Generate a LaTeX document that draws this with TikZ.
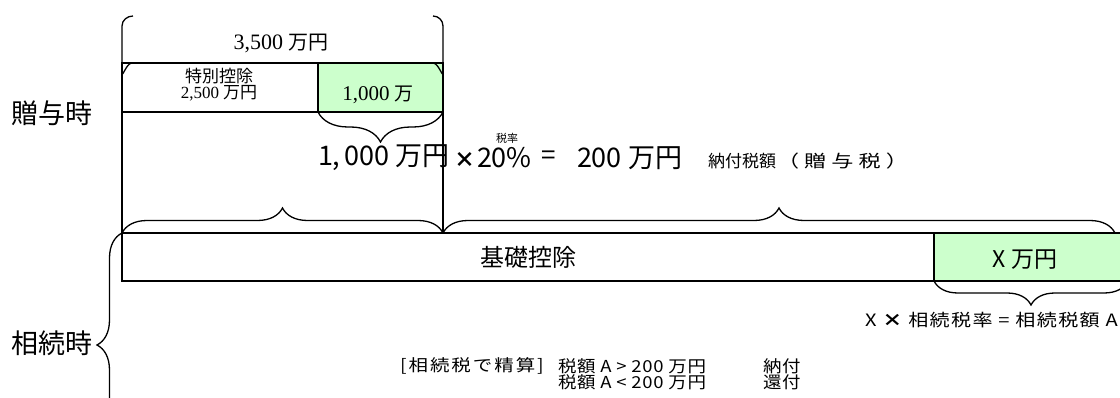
\documentclass[tikz,border=0pt]{standalone}
\usepackage{fontspec}
\setmainfont{Noto Sans CJK JP}
\newfontfamily\serifnum{Liberation Serif}
\newfontfamily\jpww[FakeStretch=1.3,LetterSpace=30]{Noto Sans CJK JP}
\newfontfamily\jpls[FakeStretch=1.18,LetterSpace=8]{Noto Sans CJK JP}
\newfontfamily\jpsb[FakeStretch=1.12,LetterSpace=4]{Noto Sans CJK JP}
\newfontfamily\jpbr[FakeStretch=1.18,LetterSpace=12]{Noto Sans CJK JP}
\usetikzlibrary{decorations.pathreplacing,calc}
\definecolor{lg}{HTML}{CCFFCC}
\tikzset{
  cell/.style={draw, line width=1.3pt, inner sep=0pt, outer sep=0pt, anchor=north west},
  txt/.style={inner sep=0pt, outer sep=0pt},
  br/.style={decorate, line width=1.3pt, decoration={brace, amplitude=#1}},
  ln/.style={line width=1.3pt},
  settle/.style={txt, anchor=west, font=\fontsize{16.5}{16.5}\selectfont},
}
\begin{document}
\begin{tikzpicture}[x=1pt,y=1pt]
\useasboundingbox (0,0) rectangle (1120,-398);
\clip (0,0) rectangle (1120,-398);

% top row cells
\node[cell, minimum width=196pt, minimum height=49pt] (sp) at (122,-63) {};
\node[cell, fill=lg, minimum width=125pt, minimum height=49pt] (g1) at (318,-63) {};
% bottom row cells
\node[cell, minimum width=812pt, minimum height=48pt] (base) at (122,-233) {};
\node[cell, fill=lg, minimum width=190pt, minimum height=48pt] (gx) at (934,-233) {};
\coordinate (j) at (443,-233);
\coordinate (e1) at (1115,-233);
\coordinate (e2) at (1128,-281);
\coordinate (e3) at (122,-457);

% vertical lines
\draw[ln] (sp.south west) -- (base.north west);
\draw[ln] (g1.south east) -- (j);

% top rounded bracket
\draw[ln] (sp.north west) ++(10,0) to[out=180,in=-90] ++(-10,-10) -- (122,-26) to[out=90,in=180] (133,-16);
\draw[ln] (g1.north east) ++(-10,0) to[out=0,in=-90] ++(10,-10) -- (443,-26) to[out=90,in=0] (433,-16);

% braces
\draw[br=30pt] (g1.south east) -- (g1.south west);
\draw[br=25pt] (base.north west) -- (j);
\draw[br=25pt] (j) -- (e1);
\draw[br=24pt] (e2) -- (gx.south west);
\draw[br=25pt] (e3) -- (base.north west);

% texts top
\node[txt] (t3500) at (281,-43) {\fontsize{22}{22}\selectfont\serifnum 3,500 \fontsize{20}{20}\selectfont\normalfont 万円};
\node[txt, align=center, font=\fontsize{17}{17}\selectfont] (tsp) at (219,-84.5) {特別控除\\[-1pt]{\serifnum 2,500} 万円};
\node[txt] (t1000) at (378,-95) {\fontsize{21}{21}\selectfont\serifnum 1,000 \normalfont\fontsize{19}{19}\selectfont 万};

\node[txt, anchor=west] (zoyo) at (12,-113) {\fontsize{27}{27}\selectfont 贈与時};
\node[txt, anchor=west] (sozoku) at (12,-343) {\fontsize{27}{27}\selectfont 相続時};

% formula
\node[txt, anchor=west] (f1) at (318,-158) {\fontsize{27}{27}\selectfont 1,\,000 万円};
\node[txt] (fx) at (465,-160) {\fontsize{21}{21}\selectfont\bfseries ×};
\node[txt, anchor=west] (f2) at (477,-158) {\fontsize{27}{27}\selectfont 20\%};
\node[txt] (rate) at (507,-138) {\fontsize{11}{11}\selectfont 税率};
\node[txt] (feq) at (549,-158) {\fontsize{26}{26}\selectfont =};
\node[txt, anchor=west] (f3) at (577,-158) {\fontsize{27}{27}\selectfont 200 万円};
\node[txt, anchor=west] (f4) at (708,-161) {\fontsize{17}{17}\selectfont 納付税額};
\node[txt, anchor=west] (f5) at (777,-161) {\fontsize{17}{17}\selectfont\jpww （贈与税）};

% bottom row texts
\node[txt] (kiso) at (528,-257) {\fontsize{24}{24}\selectfont 基礎控除};
\node[txt] (xman) at (1025,-260) {\fontsize{23}{23}\selectfont X 万円};
\node[txt, anchor=west] (xf) at (865,-320) {\fontsize{17}{17}\selectfont\jpls X {\bfseries ×} 相続税率 = 相続税額 A};

% settlement
\node[settle] (s0) at (400,-366) {\jpbr [相続税で精算]};
\node[settle] (s1) at (558,-366) {\jpsb 税額 A > 200 万円};
\node[settle] (s2) at (763,-366) {\jpsb 納付};
\node[settle] (s3) at (558,-382.5) {\jpsb 税額 A < 200 万円};
\node[settle] (s4) at (763,-382.5) {\jpsb 還付};
\end{tikzpicture}
\end{document}
